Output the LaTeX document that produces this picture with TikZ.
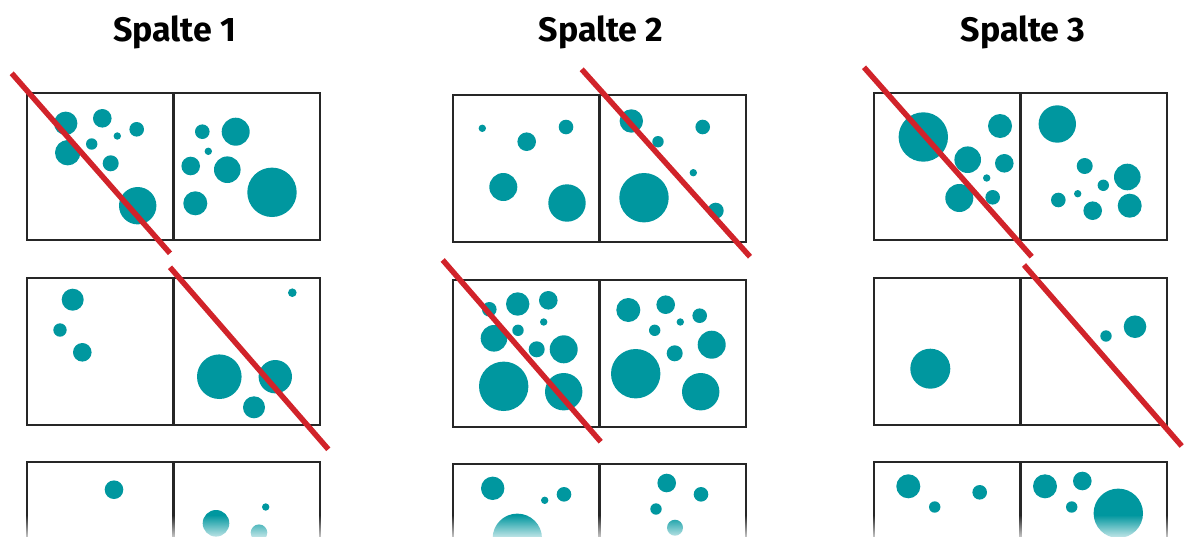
\documentclass[tikz,border=0pt]{standalone}
\usepackage{fontspec}
\setmainfont{Fira Sans}
\usepackage{tikz}
\usetikzlibrary{fadings}
\definecolor{dotteal}{HTML}{00979F}
\definecolor{crossred}{HTML}{D1232A}
\tikzfading[name=fade down, top color=transparent!100, bottom color=transparent!25]
\tikzset{
  pane/.style={draw=black!85, line width=2pt},
  split/.style={draw=black!85, line width=2.8pt},
  dot/.style={fill=dotteal},
  strike/.style={draw=crossred, line width=5.5pt},
  coltitle/.style={font=\fontsize{34}{40}\selectfont\bfseries, anchor=base, inner sep=0pt}
}

\begin{document}
\begin{tikzpicture}[x=1pt,y=-1pt]
		\useasboundingbox (0,0) rectangle (1184,536);
		\clip (0,0) rectangle (1184,536);

		%% Column titles
		\node[coltitle] (title1) at (174.5,41) {Spalte 1};
		\node[coltitle] (title2) at (601,41) {Spalte 2};
		\node[coltitle] (title3) at (1023,41) {Spalte 3};

		%% Boxes, two squares side by side in each row
		\foreach \x/\dy in {27/0,453/1.5,874/0}{
			\foreach \y in {93,278,462}{
				\draw[pane] (\x,\y+\dy) rectangle ++(293,147);
				\draw[split] (\x+146.5,\y+\dy) -- ++(0,147);
			}
		}

		%% Column 1
		% row 1
		\foreach \cx/\cy/\r in {65.7/123.3/11.7, 102.3/118.3/9.3, 117.3/136/3.7,
			136.7/129.3/7.3, 91.7/144/5.7, 67.7/152.7/12.7, 110.7/163.3/8, 137.7/205.7/18.7,
			202.3/131.7/7.3, 235.7/131.7/14, 208.3/151.3/3.7, 190.7/166/9.3,
			227.3/169.7/13.3, 195.3/203.3/12, 272/192.3/24.7}
			\fill[dot] (\cx,\cy) circle (\r);
		% row 2
		\foreach \cx/\cy/\r in {72.7/299.7/11, 60/330/6.7, 82.3/352.3/9.3,
			292.3/292.7/4.3, 219.3/376.7/22.3, 275.3/376.7/16.7, 254/407.3/11}
			\fill[dot] (\cx,\cy) circle (\r);
		% row 3
		\foreach \cx/\cy/\r in {114/489.7/9.3, 265.7/507/3.7, 216/523.3/13.3, 259/532.7/8.3}
			\fill[dot] (\cx,\cy) circle (\r);

		%% Column 2
		% row 1
		\foreach \cx/\cy/\r in {482.3/128.3/3.7, 526.7/141.7/9.3, 566/127/7.3,
			503.3/187/14, 567/203/18.7,
			631.3/121/11.7, 658/141.7/5.7, 702.7/127/7.3, 693.3/172.7/3.7,
			644/197.7/24.7, 715.7/210.7/8}
			\fill[dot] (\cx,\cy) circle (\r);
		% row 2
		\foreach \cx/\cy/\r in {489.3/309.3/7.3, 517.7/304/11.7, 548.3/300.3/9.3,
			543.7/322/3.7, 518/330.3/5.7, 494/338.3/13.3, 536.7/349.3/8,
			563.7/349.3/14, 503.7/386.3/24.7, 563.7/391.7/18.7,
			628.3/310/12, 665.7/304.7/9.3, 680.3/322/3.7, 699.7/315.7/7.3,
			654.7/330.3/5.7, 711.7/344.7/14, 674.7/353.3/8, 635.7/373.7/24.7,
			700.7/391.7/18.7}
			\fill[dot] (\cx,\cy) circle (\r);
		% row 3
		\foreach \cx/\cy/\r in {492.7/488.3/11.7, 544.7/500.3/3.7, 564/494.3/7.3,
			517.3/538.3/24.7, 666.7/483/9.3, 701/494.3/7.3, 656/509/5.7, 675/527.7/8}
			\fill[dot] (\cx,\cy) circle (\r);

		%% Column 3
		% row 1
		\foreach \cx/\cy/\r in {923.3/137/24.7, 1000/126/12, 967.7/159.7/13.3,
			1004.3/163.3/9.3, 986.7/178/3.7, 959.3/198/14, 992.7/197.3/7.3,
			1057.3/124/18.7, 1084.7/166/8, 1127.3/177/13.3, 1103.3/185.3/5.7,
			1077.7/193.7/3.7, 1058.3/200/7.3, 1092.7/210.7/9.3, 1129.7/205.7/12}
			\fill[dot] (\cx,\cy) circle (\r);
		% row 2
		\foreach \cx/\cy/\r in {930.3/368.7/20, 1106/336/5.7, 1135/326.7/11.3}
			\fill[dot] (\cx,\cy) circle (\r);
		% row 3
		\foreach \cx/\cy/\r in {908.3/486.3/12, 934.7/507/5.7, 979.7/492.3/7.3,
			1045/486.3/12, 1082.3/481/9.3, 1071.7/507/5.7, 1118.3/513.3/24.7}
			\fill[dot] (\cx,\cy) circle (\r);

		%% Strike-through lines
		\draw[strike] (11.7,73.3) -- (170,253.3);
		\draw[strike] (170,267.3) -- (328.3,449.3);
		\draw[strike] (581.7,69.3) -- (750,256.7);
		\draw[strike] (442.7,260) -- (600.7,441.7);
		\draw[strike] (864,67.3) -- (1031.7,256.7);
		\draw[strike] (1024,265) -- (1181.7,446);

		% fade out at the bottom edge
		\fill[white, path fading=fade down] (0,515) rectangle (1184,537);
	\end{tikzpicture}
\end{document}
